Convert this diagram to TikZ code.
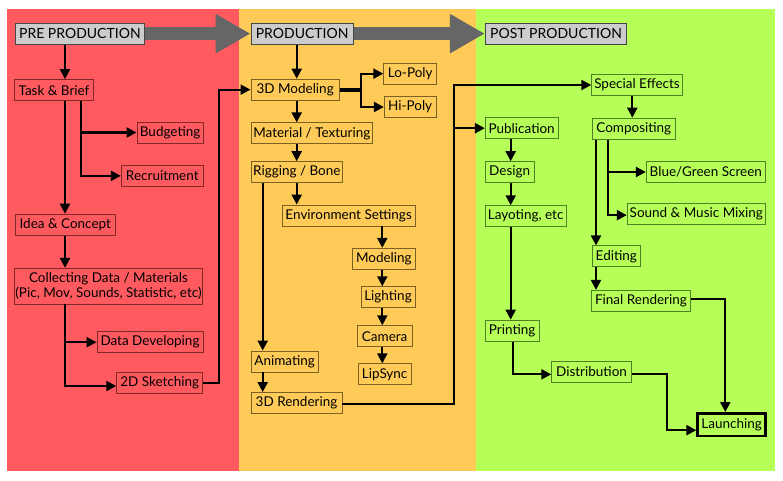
\documentclass[tikz,border=0pt]{standalone}
\usepackage{fontspec}
\setmainfont{Lato}
\usetikzlibrary{arrows.meta}
\definecolor{bgred}{RGB}{255,90,95}
\definecolor{bgorange}{RGB}{255,203,88}
\definecolor{bggreen}{RGB}{182,255,88}
\definecolor{brdred}{RGB}{130,40,40}
\definecolor{brdorange}{RGB}{125,96,36}
\definecolor{brdgreen}{RGB}{80,128,36}
\definecolor{hdrgray}{RGB}{204,204,204}
\definecolor{hdrborder}{RGB}{70,70,70}
\definecolor{arrowgray}{RGB}{102,102,102}
\begin{document}
\begin{tikzpicture}[x=1pt,y=-1pt,
  font=\fontsize{13.5}{15}\selectfont,
  box/.style={draw, line width=0.9pt, inner sep=0pt, minimum height=21pt, align=center},
  rbox/.style={box, draw=brdred, fill=bgred},
  obox/.style={box, draw=brdorange, fill=bgorange},
  gbox/.style={box, draw=brdgreen, fill=bggreen},
  hdr/.style={box, draw=hdrborder, fill=hdrgray, font=\fontsize{14}{15}\selectfont},
  conn/.style={line width=2.2pt, -{Triangle[length=10pt,width=10pt]}},
  big/.style={draw=arrowgray, line width=12.7pt, -{Triangle[length=35pt,width=37pt]}}
]
\useasboundingbox (0,0) rectangle (783,481);
% backgrounds
\fill[bgred] (7,9) rectangle (239,471);
\fill[bgorange] (239,9) rectangle (475.5,471);
\fill[bggreen] (475.5,9) rectangle (775,471);

% lanes
\coordinate (xa) at (65,0);
\coordinate (xb) at (80.7,0);
\coordinate (xc) at (219.3,0);
\coordinate (xd) at (296.7,0);
\coordinate (xe) at (361,0);
\coordinate (xf) at (262.7,0);
\coordinate (xg) at (382.3,0);
\coordinate (xh) at (454,0);
\coordinate (xi) at (510.7,0);
\coordinate (xj) at (632.3,0);
\coordinate (xk) at (596,0);
\coordinate (xl) at (608.3,0);
\coordinate (xm) at (512.7,0);
\coordinate (xn) at (667.3,0);
\coordinate (xo) at (725.3,0);

% headers
\node[hdr, minimum width=129.7pt] (pre) at (79.85,33.65) {PRE PRODUCTION};
\node[hdr, minimum width=102.3pt] (prod) at (302.15,33.65) {PRODUCTION};
\node[hdr, minimum width=141.4pt] (post) at (556,33.65) {POST PRODUCTION};

% pre production
\node[rbox, minimum width=78.6pt] (task) at (54,90.15) {Task \& Brief};
\node[rbox, minimum width=66.3pt] (budget) at (170.15,132.5) {Budgeting};
\node[rbox, minimum width=82pt] (recruit) at (162.3,175.85) {Recruitment};
\node[rbox, minimum width=100pt] (idea) at (65.3,224.65) {Idea \& Concept};
\node[rbox, minimum width=188.4pt, minimum height=35.7pt] (collect) at (108.5,286.15) {Collecting Data / Materials\\(Pic, Mov, Sounds, Statistic, etc)};
\node[rbox, minimum width=106pt] (dd) at (150,342.2) {Data Developing};
\node[rbox, minimum width=86pt] (sketch) at (159.7,383) {2D Sketching};

% production
\node[obox, minimum width=88.3pt] (mod3d) at (295.15,89.65) {3D Modeling};
\node[obox, minimum width=53pt] (lo) at (410.2,73.65) {Lo-Poly};
\node[obox, minimum width=51.7pt] (hi) at (410.15,107) {Hi-Poly};
\node[obox, minimum width=121.7pt] (mat) at (311.85,133.35) {Material / Texturing};
\node[obox, minimum width=91.7pt] (rig) at (296.85,172.2) {Rigging / Bone};
\node[obox, minimum width=132.7pt] (env) at (348.65,215.5) {Environment Settings};
\node[obox, minimum width=62.3pt] (model) at (383.85,258.8) {Modeling};
\node[obox, minimum width=54pt] (light) at (388,297.2) {Lighting};
\node[obox, minimum width=55.3pt] (cam) at (384.65,336.2) {Camera};
\node[obox, minimum width=52.7pt] (lip) at (384.65,374.35) {LipSync};
\node[obox, minimum width=67.3pt] (anim) at (284.65,361.5) {Animating};
\node[obox, minimum width=91pt] (rend) at (296.5,403) {3D Rendering};

% post production
\node[gbox, minimum width=90.6pt] (sfx) at (637,85) {Special Effects};
\node[gbox, minimum width=72.7pt] (pub) at (521.65,128.2) {Publication};
\node[gbox, minimum width=83pt] (comp) at (633.8,128.65) {Compositing};
\node[gbox, minimum width=48.7pt] (design) at (509.65,172.2) {Design};
\node[gbox, minimum width=80.7pt] (layout) at (525.65,216.2) {Layoting, etc};
\node[gbox, minimum width=119pt] (blue) at (705.8,172) {Blue/Green Screen};
\node[gbox, minimum width=138pt] (sound) at (696.3,213.65) {Sound \& Music Mixing};
\node[gbox, minimum width=48pt] (edit) at (616.3,256.35) {Editing};
\node[gbox, minimum width=98.6pt] (final) at (641,300.85) {Final Rendering};
\node[gbox, minimum width=53.7pt] (printing) at (512.15,330.65) {Printing};
\node[gbox, minimum width=79.6pt] (dist) at (591.5,371.85) {Distribution};
\node[gbox, draw=black, line width=2.6pt, minimum width=68pt, minimum height=22.7pt] (launch) at (731.7,424.65) {Launching};

% entry / exit points
\coordinate (sketchin) at ([yshift=-3pt]sketch.west);
\coordinate (rendout) at ([yshift=-1pt]rend.east);
\coordinate (mod3dhi) at ([yshift=1pt]mod3d.east);
\coordinate (mod3dlo) at ([yshift=-1pt]mod3d.east);
\coordinate (distin) at ([yshift=-2.5pt]dist.west);
\coordinate (distout) at ([yshift=-2.5pt]dist.east);
\coordinate (soundin) at ([yshift=-1.5pt]sound.west);
\coordinate (finalout) at ([yshift=1.8pt]final.east);
\coordinate (launchin) at ([yshift=-5.5pt]launch.west);

% big phase arrows
\draw[big] (pre.east) -- (prod.west);
\draw[big] (prod.east) -- (post.west);

% pre production connectors
\draw[conn] (pre.south -| xa) -- (task.north -| xa);
\draw[conn] (task.south -| xa) -- (idea.north -| xa);
\draw[conn] (task.south -| xb) |- (budget.west);
\draw[conn] (task.south -| xb) |- (recruit.west);
\draw[conn] (idea.south -| xa) -- (collect.north -| xa);
\draw[conn] (collect.south -| xa) |- (dd.west);
\draw[conn] (collect.south -| xa) |- (sketchin);
\draw[conn] (sketch.east) -| (xc |- mod3d.west) -- (mod3d.west);

% production connectors
\draw[conn] (prod.south -| xd) -- (mod3d.north -| xd);
\draw[conn] (mod3dhi) -| (xe |- lo.west) -- (lo.west);
\draw[conn] (mod3dlo) -| (xe |- hi.west) -- (hi.west);
\draw[conn] (mod3d.south -| xd) -- (mat.north -| xd);
\draw[conn] (mat.south -| xd) -- (rig.north -| xd);
\draw[conn] (rig.south -| xd) -- (env.north -| xd);
\draw[conn] (rig.south -| xf) -- (anim.north -| xf);
\draw[conn] (anim.south -| xf) -- (rend.north -| xf);
\draw[conn] (env.south -| xg) -- (model.north -| xg);
\draw[conn] (model.south -| xg) -- (light.north -| xg);
\draw[conn] (light.south -| xg) -- (cam.north -| xg);
\draw[conn] (cam.south -| xg) -- (lip.north -| xg);
\draw[conn] (rendout) -| (xh |- pub.west) -- (pub.west);
\draw[conn] (rendout) -| (xh |- sfx.west) -- (sfx.west);

% post production connectors
\draw[conn] (sfx.south -| xj) -- (comp.north -| xj);
\draw[conn] (pub.south -| xi) -- (design.north -| xi);
\draw[conn] (design.south -| xi) -- (layout.north -| xi);
\draw[conn] (layout.south -| xi) -- (printing.north -| xi);
\draw[conn] (printing.south -| xm) |- (distin);
\draw[conn] (comp.south -| xl) |- (blue.west);
\draw[conn] (comp.south -| xl) |- (soundin);
\draw[conn] (comp.south -| xk) -- (edit.north -| xk);
\draw[conn] (edit.south -| xk) -- (final.north -| xk);
\draw[conn] (finalout) -| (xo |- launch.north);
\draw[conn] (distout) -| (xn |- launchin) -- (launchin);
\end{tikzpicture}
\end{document}
